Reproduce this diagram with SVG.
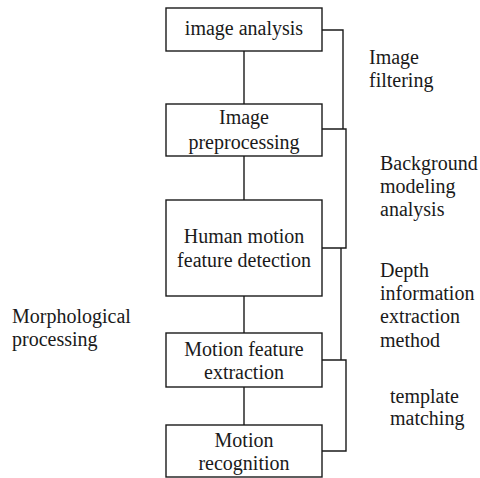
<svg xmlns="http://www.w3.org/2000/svg" width="480" height="478" viewBox="0 0 480 478" font-family="'Liberation Serif', 'Times New Roman', 'DejaVu Serif', serif" font-size="20">
<style>
.box{fill:#fff;stroke:#1a1a1a;stroke-width:1.4}
.ln{fill:none;stroke:#1a1a1a;stroke-width:1.4}
text{fill:#1a1a1a}
.c{text-anchor:middle}
</style>
<rect width="480" height="478" fill="#fff"/>
<g id="connectors">
<path class="ln" d="M244,51V104M244,156V200M244,296V333M244,387V425"/>
<path class="ln" d="M322,30H343V129"/>
<path class="ln" d="M322,129H346V248H322"/>
<path class="ln" d="M341,248V360"/>
<path class="ln" d="M322,360H346V451H322"/>
</g>
<g id="n1"><rect class="box" x="166" y="8" width="156" height="43"/><text class="c" x="244" y="35">image analysis</text></g>
<g id="n2"><rect class="box" x="166" y="104" width="156" height="52"/><text class="c" x="244" y="124">Image</text><text class="c" x="244" y="149">preprocessing</text></g>
<g id="n3"><rect class="box" x="166" y="200" width="156" height="96"/><text class="c" x="244" y="243">Human motion</text><text class="c" x="244" y="267">feature detection</text></g>
<g id="n4"><rect class="box" x="166" y="333" width="156" height="54"/><text class="c" x="244" y="356">Motion feature</text><text class="c" x="244" y="379">extraction</text></g>
<g id="n5"><rect class="box" x="166" y="425" width="156" height="52"/><text class="c" x="244" y="447">Motion</text><text class="c" x="244" y="470">recognition</text></g>
<g id="labels">
<text x="369" y="64">Image</text><text x="369" y="87">filtering</text>
<text x="380" y="170">Background</text><text x="380" y="193">modeling</text><text x="380" y="216">analysis</text>
<text x="380" y="277">Depth</text><text x="380" y="300">information</text><text x="380" y="323">extraction</text><text x="380" y="347">method</text>
<text x="390" y="403">template</text><text x="390" y="425">matching</text>
<text x="12" y="323">Morphological</text><text x="12" y="346">processing</text>
</g>
</svg>
